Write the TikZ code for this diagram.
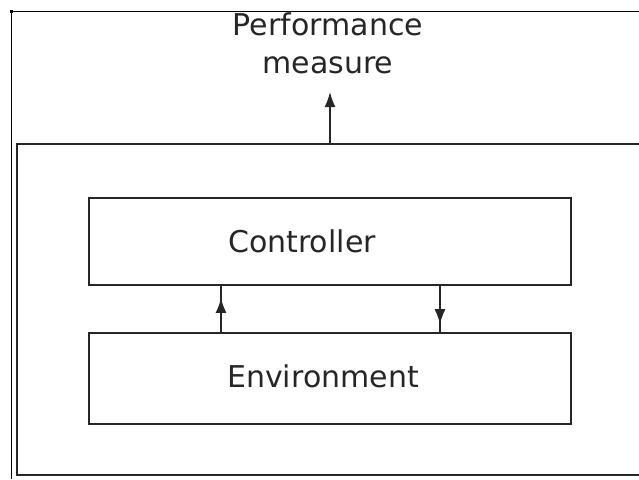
\documentclass[tikz,border=0pt]{standalone}
\usepackage{fontspec}
\setmainfont{DejaVu Sans}
\usetikzlibrary{arrows.meta,decorations.markings}
\begin{document}
\begin{tikzpicture}[x=1pt,y=-1pt,
  box/.style={draw=black!85,line width=2pt,minimum width=482pt,minimum height=88pt,inner sep=0pt},
  lbl/.style={font=\fontsize{30}{38}\selectfont,inner sep=0pt,text=black!85},
  frameline/.style={draw=black,line width=1pt},
  midarrow/.style={line width=1.6pt,draw=black!85,postaction={decorate},decoration={markings,mark=at position #1 with {\arrow{Latex[length=15pt,width=11pt]}}}}
]
\useasboundingbox (0,0) rectangle (639,479);
% scan frame
\coordinate (f1) at (639,11);
\coordinate (f2) at (11,11);
\coordinate (f3) at (11,479);
\draw[frameline] (f1) -- (f2) -- (f3);
\fill (10,10) rectangle (13,13);
% outer system box (cut at right edge)
\coordinate (o1) at (640,144);
\coordinate (o2) at (17,144);
\coordinate (o3) at (17,475);
\coordinate (o4) at (640,475);
\draw[line width=2.4pt,draw=black!85] (o1) -- (o2) -- (o3) -- (o4);
% boxes
\node[box,minimum height=87pt] (ctrl) at (330,241.5) {};
\node[box,minimum height=91pt] (env) at (329.5,378.5) {};
\node[lbl,anchor=base] (ctrltxt) at (302,252) {Controller};
\node[lbl,anchor=base] (envtxt) at (323,387) {Environment};
% performance measure
\node[lbl,align=center,anchor=north] (perf) at (328,13) {Performance\\measure};
\coordinate (sysTop) at (330,144);
\coordinate (perfEnd) at (330,92);
\draw[line width=1.6pt,draw=black!85,-{Latex[length=15pt,width=11pt]}] (sysTop) -- (perfEnd);
% connectors
\coordinate (ux) at (221,0);
\coordinate (dx) at (440,0);
\draw[midarrow=0.74] (env.north -| ux) -- (ctrl.south -| ux);
\draw[midarrow=0.83] (ctrl.south -| dx) -- (env.north -| dx);
\end{tikzpicture}
\end{document}
